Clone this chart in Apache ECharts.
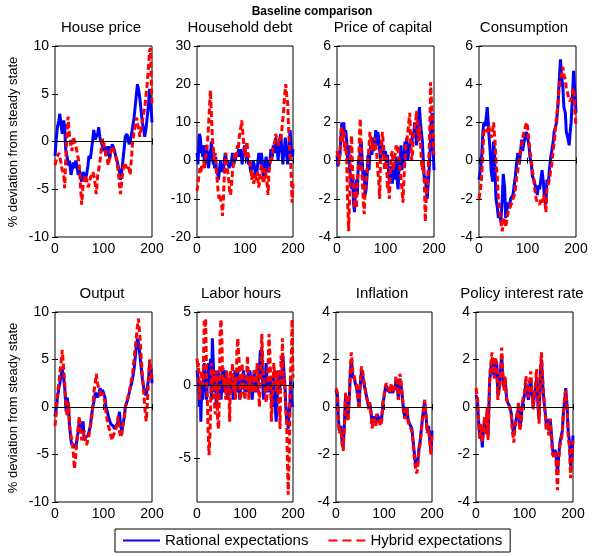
<!DOCTYPE html>
<html>
<head>
<meta charset="utf-8">
<script src="https://cdn.jsdelivr.net/npm/echarts@6/dist/echarts.min.js"></script>
<style>html,body{margin:0;padding:0;background:#fff}#c{width:592px;height:556px}</style>
</head>
<body>
<div id="c"></div>
<script>
// ---------- DATA: [period, % deviation from steady state] ----------
const periodTicks = [0, 100, 200];
const seriesNames = ['Rational expectations', 'Hybrid expectations'];
const panelTitles = ['House price', 'Household debt', 'Price of capital', 'Consumption', 'Output', 'Labor hours', 'Inflation', 'Policy interest rate'];
const yRanges = [[-10, 10], [-20, 30], [-4, 6], [-4, 6], [-10, 10], [-8, 5], [-4, 4], [-4, 4]];
const yTickValues = [
  [-10, -5, 0, 5, 10], [-20, -10, 0, 10, 20, 30], [-4, -2, 0, 2, 4, 6], [-4, -2, 0, 2, 4, 6],
  [-10, -5, 0, 5, 10], [-5, 0, 5], [-4, -2, 0, 2, 4], [-4, -2, 0, 2, 4]
];

const housePriceRational = [[0,-1.5],[3,0.5],[5,1.5],[8,2.2],[10,2.9],[13,1.5],[15,0.8],[18,2.2],[20,1.5],[22,-0.8],[25,-1],[28,-2.5],[30,-2],[33,-3.5],[35,-3.3],[38,-2.2],[40,-2.8],[43,-2],[45,-2.5],[48,-3.5],[50,-3],[53,-3.8],[55,-4.2],[58,-3.2],[60,-3],[63,-3.8],[65,-3.5],[68,-2.5],[70,-1.5],[73,-1.8],[75,-1],[78,0.3],[80,1.2],[83,0.2],[85,0.5],[88,0.8],[90,1.5],[93,0.3],[95,0.5],[98,-0.5],[100,-1],[103,-0.5],[105,-1.5],[108,-1.2],[110,-0.5],[113,-1.8],[115,-1],[118,-0.3],[120,-0.5],[123,-1],[125,-1.5],[128,-2],[130,-2.5],[133,-3.2],[135,-4],[138,-3],[140,-2],[143,-0.5],[145,0.5],[148,0.8],[150,0.5],[153,-0.3],[155,0],[158,0.8],[160,1.5],[163,2.5],[165,3.5],[168,5],[170,6],[173,5.2],[175,4.5],[178,3],[180,2],[183,1.2],[185,0.5],[188,1.5],[190,2.5],[193,4],[195,5.5],[198,3.5],[200,2]];
const housePriceHybrid = [[0,-2.5],[3,-1.8],[5,-2],[8,-1.2],[10,-1.5],[13,-2.5],[15,-3],[18,-3.5],[20,-4.9],[22,-2],[25,1],[27,2.6],[30,0.5],[33,-0.5],[35,-1],[38,0.5],[40,0.5],[43,-0.5],[45,-1],[48,-1.8],[50,-2.5],[53,-5],[55,-6.6],[58,-4.5],[60,-4.5],[63,-3.5],[65,-4],[68,-4.8],[70,-4.5],[73,-3.8],[75,-4],[78,-3.2],[80,-3.5],[83,-4.5],[85,-5.5],[88,-3.5],[90,-3],[93,-2],[95,-1],[98,0.3],[100,0],[103,-0.8],[105,-1.5],[108,-2],[110,-2.5],[113,-1.5],[115,-1],[118,-0.5],[120,-0.5],[123,-1.2],[125,-1.5],[128,-2.2],[130,-3],[133,-4.5],[135,-5.5],[138,-4],[140,-3],[143,-2.2],[145,-2],[148,-2.8],[150,-2.5],[153,-3],[155,-3.5],[158,-1.5],[160,0],[163,1],[165,1.5],[168,2.5],[170,2.5],[173,1.2],[175,0.5],[178,1.5],[180,2],[183,3],[185,3.5],[188,5],[190,6],[193,8],[195,9.5],[197,9.8],[199,5],[200,4]];

const householdDebtRational = [[0,2],[2,-1],[4,5],[5,7],[7,6],[9,2],[10,3],[12,1],[14,4],[15,0],[17,-1],[19,3],[20,4],[22,1],[24,-2],[25,-1],[27,2],[29,3],[30,5],[32,1],[34,-1],[35,0],[37,-2],[39,1],[40,-2],[42,-3],[44,-4],[45,-5],[47,-2],[49,0],[50,-1],[52,-3],[54,-1],[55,-3],[57,0],[59,2],[60,1],[62,-1],[64,0],[65,-1],[67,-2],[69,-0.5],[70,-1.5],[72,0],[74,2],[75,1],[77,-1],[79,1],[80,0],[82,2],[84,1],[85,2],[87,3],[89,1],[90,3],[92,2],[94,-1],[95,0],[97,2],[99,4],[100,3],[102,1],[104,2],[105,1],[107,-1],[109,0],[110,-1],[112,-3],[114,-2],[115,-2],[117,0],[119,-1],[120,-1],[122,-4],[124,-2],[125,-3],[127,0],[129,2],[130,1],[132,-1],[134,2],[135,1],[137,-2],[139,-4],[140,-3],[142,-1],[144,1],[145,0],[147,-3],[149,-1],[150,-2],[152,0],[154,3],[155,2],[157,1],[159,4],[160,4],[162,2],[164,6],[165,5],[167,3],[169,0],[170,2],[172,4],[174,7],[175,6],[177,2],[179,-1],[180,1],[182,3],[184,6],[185,5],[187,1],[189,-1],[190,1],[192,4],[194,8],[195,8],[197,2],[199,1],[200,3]];
const householdDebtHybrid = [[0,-8],[2,-6],[4,-4],[6,-2],[8,-3],[10,-1],[12,-2],[14,0],[16,-2],[18,1],[20,3],[22,5],[24,9],[26,14],[28,18.4],[30,12],[32,6],[34,3],[36,0],[38,2],[40,-2],[42,-5],[44,-8],[46,-10],[48,-9],[50,-11],[52,-12],[53,-14.5],[55,-10],[57,-4],[59,0],[60,2],[62,-1],[64,-3],[66,-5],[68,-8],[70,-9],[72,-6],[74,-3],[76,-1],[78,1],[80,2],[82,1],[84,4],[86,3],[88,6],[90,8],[92,9],[93,10.5],[95,8],[97,5],[99,2],[100,1],[102,3],[104,5],[106,2],[108,1],[110,0],[112,-2],[114,-5],[116,-3],[118,-6],[120,-6],[122,-4],[124,-5],[126,-3],[128,-7],[130,-6],[132,-3],[134,-1],[136,-3],[138,-6],[140,-5],[142,-2],[144,-4],[146,-6],[148,-9],[150,-3],[152,-1],[154,1],[156,0],[158,3],[160,3],[162,5],[164,7],[166,6],[168,5],[170,4],[172,6],[174,5],[176,7],[178,10],[180,12],[182,16],[184,19],[185,20],[187,17],[189,15],[191,8],[193,3],[195,0],[197,-6],[198,-11],[200,-6]];

const capitalPriceRational = [[0,0.3],[2,-0.3],[4,0.5],[6,0.2],[8,1.2],[10,2],[12,1.5],[14,2],[16,1.2],[18,1.6],[20,1],[22,0],[24,0.8],[26,-0.5],[28,-0.8],[30,-1.5],[32,-0.8],[34,-2.2],[36,-2.7],[38,-1.5],[40,-1],[42,-1.8],[44,0],[46,-0.5],[48,0.8],[50,1],[52,0],[54,-1],[56,-0.5],[58,-1.8],[60,-1.5],[62,-0.8],[64,0.3],[66,-0.5],[68,0.5],[70,0.8],[72,0.3],[74,1.2],[76,0.5],[78,1],[80,1.6],[82,0.8],[84,1.5],[86,1.2],[88,0.5],[90,0],[92,1],[94,0.3],[96,0.8],[98,0],[100,0.5],[102,-0.3],[104,0.3],[106,-0.5],[108,-1.2],[110,-0.8],[112,-0.3],[114,-1.2],[116,-0.5],[118,-1],[120,-0.5],[122,0.2],[124,-1],[126,-1.5],[128,-0.3],[130,0],[132,0.8],[134,-0.5],[136,0.5],[138,-0.2],[140,1],[142,0.5],[144,1.2],[146,0],[148,0.5],[150,0.5],[152,1],[154,0.8],[156,1.5],[158,1.2],[160,2],[162,1.6],[164,0.8],[166,1.2],[168,2.2],[170,2.8],[172,2],[174,1.5],[176,1],[178,0],[180,-1],[182,-0.8],[184,-1.5],[186,-2],[188,-1.2],[190,-0.5],[192,0.5],[194,2],[196,2.5],[198,0.8],[200,-0.5]];
const capitalPriceHybrid = [[0,0.5],[2,0.2],[4,-0.2],[6,0.5],[8,1.5],[10,1.8],[12,1],[14,1.6],[16,0.5],[18,1],[20,0],[22,-2.2],[24,-3.7],[26,-2],[28,0.5],[30,1.3],[32,-0.5],[34,-1],[36,-2.5],[38,-1.8],[40,-2.5],[42,-1],[44,-0.5],[46,1],[48,2.2],[50,0.5],[52,-1],[54,-2],[56,-2.8],[58,-1.5],[60,-1.5],[62,-0.5],[64,0],[66,0.8],[68,1.5],[70,1.5],[72,0.5],[74,1],[76,0.5],[78,1.2],[80,1.2],[82,0.3],[84,-0.5],[86,-1],[88,-2],[90,0.5],[92,1.2],[94,1.5],[96,0.5],[98,-0.5],[100,-0.5],[102,0.2],[104,-1.5],[106,-1.2],[108,-2],[110,-0.5],[112,0.3],[114,0.5],[116,-0.5],[118,0],[120,0],[122,0.8],[124,0.5],[126,0.8],[128,0],[130,-0.5],[132,-1],[134,-1.5],[136,-2.2],[138,-1],[140,0],[142,0.8],[144,1],[146,1.5],[148,2],[150,2.5],[152,1],[154,0],[156,0.5],[158,1.5],[160,1.5],[162,2],[164,2.6],[166,1.8],[168,1],[170,1.8],[172,1],[174,0],[176,-0.5],[178,0],[180,-1],[182,-3.2],[184,-2],[186,-1.5],[188,-0.5],[190,0.5],[192,2.5],[193,4.1],[195,3],[197,2],[199,0.5],[200,0.3]];

const consumptionRational = [[0,-1],[3,-0.5],[5,0],[8,1.5],[10,2],[13,1.8],[15,2.3],[17,2.8],[19,2],[20,1.5],[23,0.5],[25,-0.5],[28,-1.1],[30,1],[32,0.5],[33,-0.5],[35,-2],[38,-2.5],[40,-3],[43,-2.8],[45,-3.2],[48,-2],[50,-0.7],[53,-1.5],[55,-3],[58,-2.5],[60,-2.2],[63,-2.5],[65,-2],[68,-2],[70,-1.8],[73,-1.2],[75,-0.8],[78,0],[80,0.4],[83,-0.2],[85,0.3],[88,1.1],[90,0.5],[93,1],[95,1],[98,1.5],[100,1.2],[103,0.8],[105,0.2],[108,-0.2],[110,-0.8],[113,-1],[115,-1.2],[118,-1.5],[120,-1.8],[123,-1.3],[125,-1.5],[128,-1.5],[130,-0.5],[133,-1.2],[135,-2],[138,-2.3],[140,-1],[143,-1.2],[145,-0.5],[148,0.2],[150,0.5],[153,1],[155,1.5],[158,1.8],[160,2],[163,3],[165,4],[168,5.3],[170,4.5],[173,3.8],[175,2.8],[178,2.5],[180,1.5],[183,1.2],[186,0.8],[188,1.5],[190,2],[193,3.5],[195,4.7],[198,3.5],[200,2.5]];
const consumptionHybrid = [[0,-2],[3,-1.5],[5,-1],[8,0.5],[10,1.5],[13,1.7],[15,1.8],[18,1.5],[20,1.8],[23,1.5],[25,1.2],[28,1.5],[30,2],[33,1],[35,0],[38,-1],[40,-2],[43,-2.8],[45,-3.2],[48,-3.7],[50,-3.2],[53,-3],[55,-3.5],[58,-3],[60,-2.7],[63,-2.5],[65,-2.5],[68,-2.2],[70,-2],[73,-1.8],[75,-1.5],[78,-0.8],[80,-0.5],[83,0],[85,0.5],[88,0.8],[90,1.2],[93,1.5],[95,1.7],[98,2],[100,1.8],[103,1],[105,0.5],[108,0],[110,-0.5],[113,-1],[115,-1.5],[118,-2],[120,-2.2],[123,-2.2],[125,-2.3],[128,-2],[130,-2.2],[133,-1.8],[135,-2],[138,-2.7],[140,-1.5],[143,-1.2],[145,-1],[148,-0.5],[150,-0.2],[153,0.5],[155,1],[158,1.8],[160,2.3],[163,3],[165,3.8],[168,4.3],[170,4.5],[173,4.9],[175,4.5],[178,4.2],[180,3.8],[183,3.5],[185,3.3],[188,3.1],[190,3],[193,3.5],[195,3.8],[198,2.5],[200,1.8]];

const outputRational = [[0,-1],[3,0],[5,1],[8,2],[10,2.5],[13,3.5],[15,4],[18,3],[20,2],[23,-0.5],[25,1],[28,0],[30,-2],[33,-3.5],[35,-4],[38,-4],[40,-4],[43,-4.3],[45,-4.5],[48,-2.5],[50,-1.5],[53,-2],[55,-2.5],[58,-1.5],[60,-3.5],[63,-3.2],[65,-3],[68,-3],[70,-3],[73,-2],[75,-1],[78,0],[80,0.5],[83,1.5],[85,1.5],[88,1],[90,1.2],[93,2],[95,1.5],[98,1.8],[100,2],[103,1],[105,0],[108,-0.5],[110,-1],[113,-1.5],[115,-1.8],[118,-2],[120,-2],[123,-2.3],[125,-2.2],[128,-1.8],[130,-1.5],[133,-0.5],[135,-2],[138,-2.5],[140,-2.5],[143,-1],[145,0],[148,0.5],[150,0.8],[153,1.5],[155,2],[158,2.5],[160,3],[163,4],[165,5],[168,6.5],[170,7.2],[173,6.5],[175,5.5],[178,4],[180,3],[183,2],[185,1.5],[188,1.2],[190,1],[193,3],[195,4.5],[198,4],[200,2.5]];
const outputHybrid = [[0,-2],[3,-0.5],[5,1.5],[8,2.5],[10,3.5],[13,5],[15,6],[18,4],[20,2.5],[23,0],[25,-1],[28,0.5],[30,-2],[33,-3],[35,-3.5],[38,-5],[40,-6.5],[43,-5],[45,-3.5],[48,-2],[50,-1],[53,-2.5],[55,-3.5],[58,-3],[60,-2.5],[63,-3.5],[65,-4],[68,-3.5],[70,-3],[73,-2],[75,-1.5],[78,0],[80,1.5],[83,2.5],[85,3.5],[88,2.5],[90,2],[93,1.5],[95,1],[98,1.5],[100,1.5],[103,0.5],[105,-0.5],[108,-1.5],[110,-2],[113,-2.5],[115,-3],[118,-3.5],[120,-3],[123,-2.8],[125,-2.5],[128,-1.8],[130,-1],[133,-2.5],[135,-3.2],[138,-2.8],[140,-2],[143,-1],[145,0],[148,0.5],[150,1],[153,1.5],[155,2],[158,3],[160,3.5],[163,5],[165,6],[168,7.5],[170,8.5],[172,9.3],[175,7.5],[178,5],[180,3.5],[183,1.5],[185,0],[188,-1.5],[190,0],[193,3],[195,5],[198,4],[200,3]];

const laborHoursRational = [[0,1],[2,0.5],[4,-0.5],[5,-1.5],[7,-0.8],[8,-2.5],[10,0],[12,-1],[14,1],[15,1.5],[17,0.5],[19,-0.5],[20,-1],[22,0.5],[24,1.5],[25,1.5],[27,0],[28,1.8],[30,-1],[31,1],[32,3.2],[34,1.5],[35,0.5],[37,-0.5],[39,1],[40,-1.5],[42,0],[44,-1],[45,1],[47,0.5],[49,-0.5],[50,-1],[52,0],[54,1.2],[55,0.5],[57,-0.5],[59,0.5],[60,1],[62,0],[64,-1],[65,-1],[67,0.5],[69,-0.2],[70,0.5],[72,-0.5],[74,0.3],[75,-1],[77,0],[79,1],[80,0.5],[82,-0.5],[84,0.5],[85,1],[87,0],[89,-1],[90,-0.5],[92,0.5],[94,-0.3],[95,0.5],[97,1],[99,0],[100,-0.5],[102,0.5],[104,-0.5],[105,0],[107,1],[109,0],[110,1],[112,0.5],[114,-0.5],[115,-1],[117,0],[119,1],[120,0.5],[122,-0.5],[124,0.5],[125,-0.5],[127,0],[129,1.5],[130,1],[132,2.4],[134,0.5],[135,2.5],[137,0],[139,-1],[140,-0.5],[142,0.5],[144,1.5],[145,1],[147,-0.5],[149,0.5],[150,0],[152,-0.5],[154,0.5],[155,-1],[157,-1.5],[159,0],[160,0.5],[162,-1],[164,-2],[165,-2.5],[167,-1],[169,1],[170,0.5],[172,-0.5],[174,1],[175,0],[177,0.5],[179,2],[180,1.5],[182,0.5],[184,-0.5],[185,-1.5],[187,-2.5],[189,-2],[190,-3],[192,-1.5],[193,-2],[195,0.5],[197,-1],[199,-1.5],[200,-1.5]];
const laborHoursHybrid = [[0,1.8],[2,1.2],[3,1.5],[5,-1],[7,0],[8,0.5],[10,1],[12,0],[13,0.5],[15,4.4],[17,4],[18,4.5],[20,0.5],[22,-1.5],[23,-3],[25,-4.8],[27,-3.5],[28,-2],[30,1.5],[32,0],[34,1],[35,-0.5],[37,-1.5],[38,-2],[40,1],[42,-0.5],[43,-2.5],[45,-3],[47,0],[48,3.5],[50,4.5],[52,3],[53,1],[55,0],[57,0.5],[59,-0.5],[60,-1],[62,1],[64,0],[65,0.5],[67,-1],[68,-2.5],[70,1],[72,0],[74,1.5],[75,0],[77,-0.5],[79,0.5],[80,-1],[82,0.5],[83,2.3],[85,3.2],[87,2],[88,1.5],[90,-1],[92,-0.5],[94,1.5],[95,0.5],[97,0],[98,-0.5],[100,-1],[102,0.5],[104,1],[105,2],[107,0.5],[108,-1],[110,0.5],[112,-0.5],[114,0.8],[115,0],[117,-0.5],[119,0.5],[120,1],[122,0],[123,-0.5],[125,1.5],[127,0.5],[128,0],[130,-1.5],[132,0.5],[134,2],[135,3.5],[137,1.5],[139,0.5],[140,0],[142,-0.5],[144,-1.2],[145,-1],[147,0],[148,1],[150,3.5],[152,2],[153,1],[155,-2.5],[157,-1],[159,0.5],[160,1.5],[162,0.5],[164,1],[165,0],[167,-0.5],[168,1],[170,-2],[172,-1.5],[173,-3],[175,2],[177,1],[178,3.2],[180,0],[182,0.5],[184,-1],[185,-1.5],[187,-3],[188,-4.5],[190,-7.5],[192,-5],[193,-3],[195,1],[197,2.5],[198,4.5],[200,0.5]];

const inflationRational = [[0,0.7],[3,0.5],[5,-0.5],[7,-1],[10,-0.8],[13,-1.5],[15,-1.7],[18,-0.5],[20,0.5],[23,0.2],[25,-0.5],[28,0.5],[30,1.5],[32,2],[35,1.3],[38,1.2],[40,1],[43,0.8],[45,0.5],[48,0],[50,0.8],[53,1.5],[55,1.4],[58,1],[60,0.8],[63,0.5],[65,0.3],[68,0],[70,0.2],[73,-0.2],[75,-0.7],[78,-0.5],[80,-0.4],[83,-0.7],[85,-0.3],[88,-0.4],[90,-0.5],[93,-0.6],[95,-0.5],[98,0.2],[100,0.4],[103,0.8],[105,0.9],[108,0.7],[110,0.7],[113,0.6],[115,0.9],[118,0.6],[120,0.6],[123,0.8],[125,1.1],[128,0.8],[130,0.3],[133,1.2],[135,1],[138,0.5],[140,0],[143,-0.4],[145,-0.4],[148,0],[150,-0.5],[153,-0.7],[155,-0.7],[158,-0.9],[160,-1.3],[163,-1.9],[165,-2.3],[168,-2.5],[170,-2.4],[173,-1.7],[175,-1.5],[178,-0.9],[180,-0.5],[183,0],[185,0.2],[188,-0.5],[190,-1],[193,-0.8],[195,-1.3],[198,-1.9],[200,-1]];
const inflationHybrid = [[0,0.8],[3,0.6],[5,-0.6],[7,-1.1],[10,-0.9],[13,-1.6],[15,-1.85],[18,-0.6],[20,0.6],[23,0.2],[25,-0.6],[28,0.6],[30,1.7],[32,2.3],[35,1.5],[38,1.3],[40,1.1],[43,0.9],[45,0.5],[48,-0.1],[50,0.9],[53,1.7],[55,1.6],[58,1.1],[60,0.9],[63,0.5],[65,0.3],[68,-0.1],[70,0.2],[73,-0.3],[75,-0.9],[78,-0.6],[80,-0.5],[83,-0.8],[85,-0.3],[88,-0.5],[90,-0.6],[93,-0.8],[95,-0.6],[98,0.2],[100,0.5],[103,0.9],[105,1],[108,0.8],[110,0.8],[113,0.6],[115,1],[118,0.6],[120,0.7],[123,0.9],[125,1.3],[128,0.9],[130,0.3],[133,1.4],[135,1.2],[138,0.5],[140,-0.1],[143,-0.5],[145,-0.4],[148,0],[150,-0.6],[153,-0.8],[155,-0.8],[158,-1],[160,-1.4],[163,-2.1],[165,-2.5],[168,-2.8],[170,-2.6],[173,-1.8],[175,-1.6],[178,-1],[180,-0.5],[183,0.1],[185,0.3],[188,-0.5],[190,-1.1],[193,-0.9],[195,-1.4],[198,-2],[200,-1.1]];

const policyRateRational = [[0,0.5],[3,0.3],[5,-0.5],[8,-1.3],[10,-0.8],[13,-1.7],[15,-1],[18,-0.5],[20,-1],[23,-0.2],[25,-1.2],[28,1],[30,1.5],[33,2],[35,1.5],[38,1.3],[40,2],[43,1.8],[45,0.5],[48,0.8],[50,0.8],[53,2.2],[55,1.3],[58,0.8],[60,1.2],[63,0.4],[65,0.2],[68,0.2],[70,0],[73,-0.3],[75,-0.8],[78,-1.2],[80,-0.8],[83,-0.5],[85,-0.3],[88,0],[90,-0.8],[93,-0.6],[95,0],[98,0.3],[100,0.5],[103,1],[105,0.7],[108,0.3],[110,0.8],[113,1.2],[115,0.6],[118,0],[120,0.4],[123,0.8],[125,1.2],[128,0],[130,-0.5],[133,1.5],[135,2],[138,0.8],[140,0.3],[143,-0.3],[145,-0.8],[148,-0.5],[150,-1],[153,-0.5],[155,-1],[158,-1.8],[160,-2],[163,-1.8],[165,-2],[168,-2.8],[170,-2.2],[173,-1.5],[175,-1.5],[178,-1],[180,-0.3],[183,0.3],[185,0.8],[188,0],[190,-1],[193,-1.5],[195,-2.5],[198,-2],[200,-1.2]];
const policyRateHybrid = [[0,0.8],[3,0.4],[5,-0.6],[8,-1.4],[10,-0.7],[13,-1.5],[15,-0.9],[18,-0.4],[20,-1.2],[23,0],[25,-1.4],[28,1.2],[30,1.7],[33,2.3],[35,1.5],[38,1.2],[40,2.1],[43,1.6],[45,0.3],[48,0.8],[50,1],[53,2.5],[55,1.5],[58,0.7],[60,1.3],[63,0.3],[65,0.2],[68,0.1],[70,-0.1],[73,-0.4],[75,-1],[78,-1.5],[80,-0.9],[83,-0.6],[85,-0.2],[88,0.2],[90,-1],[93,-0.7],[95,0.1],[98,0.5],[100,0.6],[103,1.3],[105,0.8],[108,0.4],[110,1],[113,1.5],[115,0.7],[118,-0.1],[120,0.5],[123,1],[125,1.6],[128,0.1],[130,-0.7],[133,1.7],[135,2.3],[138,1],[140,0.4],[143,-0.4],[145,-1],[148,-0.6],[150,-1.2],[153,-0.5],[155,-1.2],[158,-2],[160,-2.1],[163,-1.9],[165,-2.3],[168,-3.5],[170,-2.4],[173,-1.6],[175,-1.5],[178,-1.1],[180,-0.3],[183,0.5],[185,0.7],[188,-0.1],[190,-1.2],[193,-1.8],[195,-3],[198,-2.2],[200,-1.4]];

const rationalData = [housePriceRational, householdDebtRational, capitalPriceRational, consumptionRational, outputRational, laborHoursRational, inflationRational, policyRateRational];
const hybridData = [housePriceHybrid, householdDebtHybrid, capitalPriceHybrid, consumptionHybrid, outputHybrid, laborHoursHybrid, inflationHybrid, policyRateHybrid];

// ---------- LAYOUT ----------
const FONT = 'Liberation Sans, Arial, sans-serif';
const gridRects = [
  [55, 46, 97, 191], [197, 46, 96, 191], [337, 46, 97, 191], [479, 46, 97, 191],
  [55, 312, 97, 190], [197, 312, 96, 190], [336, 312, 96, 190], [476, 312, 97, 190]
];
const titleCenters = [[101, 28], [240, 28], [383, 28], [524, 28], [102, 294], [241, 294], [382, 294], [522, 294]];

const grid = [], xAxis = [], yAxis = [], series = [], graphic = [];
gridRects.forEach((r, i) => {
  grid.push({ left: r[0], top: r[1], width: r[2], height: r[3], show: true, borderColor: '#000', borderWidth: 1, backgroundColor: 'transparent' });
  const [ymin, ymax] = yRanges[i];
  const yTicks = yTickValues[i];
  const xTick = { show: true, inside: true, length: 3, customValues: periodTicks, lineStyle: { color: '#000', width: 1 } };
  const yTick = { show: true, inside: true, length: 3, customValues: yTicks, lineStyle: { color: '#000', width: 1 } };
  xAxis.push({ type: 'value', gridIndex: i, min: 0, max: 200, position: 'bottom',
    axisLine: { show: false }, axisTick: xTick, splitLine: { show: false },
    axisLabel: { color: '#000', fontFamily: FONT, fontSize: 14, margin: 5, customValues: periodTicks } });
  xAxis.push({ type: 'value', gridIndex: i, min: 0, max: 200, position: 'top',
    axisLine: { show: false }, axisTick: xTick, splitLine: { show: false }, axisLabel: { show: false } });
  yAxis.push({ type: 'value', gridIndex: i, min: ymin, max: ymax, position: 'left',
    axisLine: { show: false }, axisTick: yTick, splitLine: { show: false },
    axisLabel: { color: '#000', fontFamily: FONT, fontSize: 14, margin: 6, customValues: yTicks } });
  yAxis.push({ type: 'value', gridIndex: i, min: ymin, max: ymax, position: 'right',
    axisLine: { show: false }, axisTick: yTick, splitLine: { show: false }, axisLabel: { show: false } });

  series.push({ name: seriesNames[0], type: 'line', xAxisIndex: 2 * i, yAxisIndex: 2 * i,
    data: rationalData[i], symbol: 'none', showSymbol: false, animation: false,
    lineStyle: { color: '#0000ff', width: 3 }, itemStyle: { color: '#0000ff' }, z: 2 });
  series.push({ name: seriesNames[1], type: 'line', xAxisIndex: 2 * i, yAxisIndex: 2 * i,
    data: hybridData[i], symbol: 'none', showSymbol: false, animation: false,
    lineStyle: { color: '#ff0000', width: 3, type: [6, 3] }, itemStyle: { color: '#ff0000' }, z: 3,
    markLine: { silent: true, symbol: ['none', 'none'], animation: false, label: { show: false },
      lineStyle: { color: '#000', width: 1, type: 'solid' }, data: [{ yAxis: 0 }] } });

  graphic.push({ type: 'text', x: titleCenters[i][0], y: titleCenters[i][1],
    style: { text: panelTitles[i], font: '15px ' + FONT, fill: '#000', textAlign: 'center', textVerticalAlign: 'middle' } });
});

graphic.push({ type: 'text', x: 312, y: 12,
  style: { text: 'Baseline comparison', font: 'bold 12px ' + FONT, fill: '#000', textAlign: 'center', textVerticalAlign: 'middle' } });
[142, 408].forEach(cy => {
  graphic.push({ type: 'text', x: 13, y: cy, rotation: Math.PI / 2,
    style: { text: '% deviation from steady state', font: '13px ' + FONT, fill: '#000', textAlign: 'center', textVerticalAlign: 'middle' } });
});

const chart = echarts.init(document.getElementById('c'), null, { renderer: 'canvas' });
chart.setOption({
  animation: false,
  backgroundColor: '#fff',
  grid, xAxis, yAxis, series, graphic,
  legend: {
    data: [
      { name: seriesNames[0], lineStyle: { width: 2, type: 'solid' } },
      { name: seriesNames[1], lineStyle: { width: 2, type: [9, 5] } }
    ],
    left: 115, top: 529, orient: 'horizontal',
    itemWidth: 37, itemHeight: 14, itemGap: 19,
    padding: [4, 8, 4, 7], borderColor: '#000', borderWidth: 1, borderRadius: 0,
    backgroundColor: '#fff', selectedMode: false,
    itemStyle: { opacity: 0 },
    textStyle: { color: '#000', fontFamily: FONT, fontSize: 15 }
  }
});
</script>
</body>
</html>
